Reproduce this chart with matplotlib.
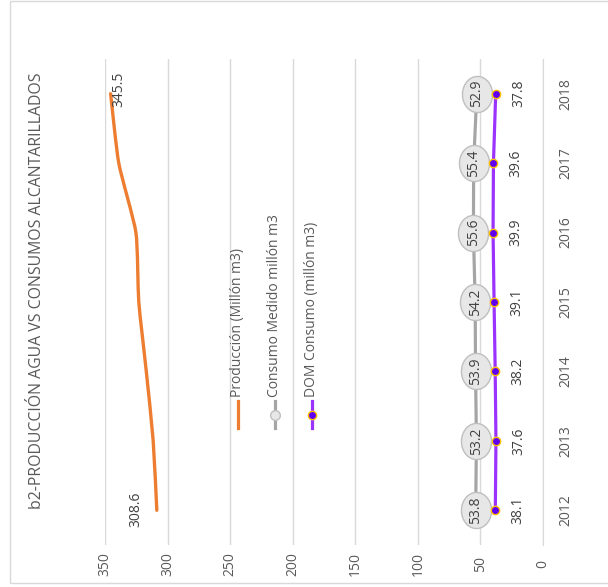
import numpy as np
import matplotlib
matplotlib.use("Agg")
import matplotlib.pyplot as plt
from matplotlib.path import Path
from matplotlib.patches import PathPatch, Rectangle
from matplotlib.lines import Line2D

plt.rcParams['font.family'] = ['Open Sans', 'DejaVu Sans']

# ---- data ----
years = ['2012', '2013', '2014', '2015', '2016', '2017', '2018']
produccion = [308.6, 311.5, 317.0, 323.0, 325.3, 339.0, 345.5]
consumo_medido = [53.8, 53.2, 53.9, 54.2, 55.6, 55.4, 52.9]
dom_consumo = [38.1, 37.6, 38.2, 39.1, 39.9, 39.6, 37.8]
value_ticks = [0, 50, 100, 150, 200, 250, 300, 350]
title = 'b2-PRODUCCIÓN AGUA VS CONSUMOS ALCANTARILLADOS'
legend_labels = ['Producción (Millón m3)', 'Consumo Medido millón m3', 'DOM Consumo (millón m3)']

W, H = 608, 587
fig = plt.figure(figsize=(W / 100, H / 100), dpi=100)

def fx(px):
    return px / W

def fy(py):
    return 1 - py / H

# outer chart border
fig.add_artist(Rectangle((fx(10), fy(583)), fx(700), fy(1) - fy(583), transform=fig.transFigure,
                         fill=False, ec='#d9d9d9', lw=1))

ax = fig.add_axes([fx(105), fy(545), fx(543) - fx(105), fy(59) - fy(545)])
ax.set_xlim(350, 0)
ax.set_ylim(-0.5, len(years) - 0.5)
for s in ['top', 'left', 'bottom']:
    ax.spines[s].set_visible(False)
ax.spines['right'].set_color('#d9d9d9')
ax.set_xticks(value_ticks)
ax.set_xticklabels([str(v) for v in value_ticks])
ax.grid(axis='x', color='#d9d9d9', lw=1)
ax.set_axisbelow(True)
ypos = np.arange(len(years))
ax.yaxis.tick_right()
ax.set_yticks(ypos)
ax.set_yticklabels(years)
ax.tick_params(axis='both', length=0, labelsize=10, labelcolor='#595959')
ax.tick_params(axis='x', pad=13.7, labelrotation=90)
ax.tick_params(axis='y', pad=16.5, labelrotation=90)
for lab in ax.get_xticklabels():
    lab.set_va('center')
for lab in ax.get_yticklabels():
    lab.set_ha('center')
    lab.set_va('center')

orange = '#ed7d31'
grey = '#a5a5a5'
purple = '#9b33ff'
mk_face = '#6000f0'
mk_edge = '#ffc000'

# lightly smoothed production line (reduced-tension Catmull-Rom -> Bezier)
pts = np.column_stack([produccion, ypos]).astype(float)
ext = np.vstack([pts[0], pts, pts[-1]])
verts = [tuple(pts[0])]
codes = [Path.MOVETO]
for i in range(len(pts) - 1):
    p0, p1, p2, p3 = ext[i], ext[i + 1], ext[i + 2], ext[i + 3]
    c1 = p1 + (p2 - p0) / 10
    c2 = p2 - (p3 - p1) / 10
    verts += [tuple(c1), tuple(c2), tuple(p2)]
    codes += [Path.CURVE4] * 3
ax.add_patch(PathPatch(Path(verts, codes), fill=False, ec=orange, lw=2.4,
                       capstyle='round', joinstyle='round', zorder=3))

# consumo medido
ax.plot(consumo_medido, ypos, color=grey, lw=2.3, zorder=2)
t = np.linspace(0, 2 * np.pi, 60)
ell = Path(np.column_stack([0.833 * np.cos(t), np.sin(t)]))
ax.plot(consumo_medido, ypos, ls='none', marker=ell, ms=26, mfc='#e7e7e7', mec='#bfbfbf',
        mew=1, zorder=4)
for v, y in zip(consumo_medido, ypos):
    ax.text(v, y, f'{v:.1f}', rotation=90, ha='center', va='center', fontsize=10,
            color='#404040', zorder=5)

# dom consumo
ax.plot(dom_consumo, ypos, color=purple, lw=2.3, zorder=6, marker='o', ms=6,
        mfc=mk_face, mec=mk_edge, mew=1)
for v, y in zip(dom_consumo, ypos):
    ax.annotate(f'{v:.1f}', (v, y), xytext=(16.5, 0), textcoords='offset points',
                rotation=90, ha='center', va='center', fontsize=10, color='#404040')

# production labels
ax.annotate(f'{produccion[0]:.1f}', (produccion[0], ypos[0]), xytext=(-15, 1),
            textcoords='offset points', rotation=90, ha='center', va='center',
            fontsize=10, color='#404040')
ax.annotate(f'{produccion[-1]:.1f}', (produccion[-1], ypos[-1]), xytext=(6, 3),
            textcoords='offset points', rotation=90, ha='center', va='center',
            fontsize=10, color='#404040')

# title
fig.text(fx(37), fy(291), title, rotation=90, ha='center', va='center', fontsize=11.4,
         color='#595959')

# legend (rotated)
leg_x = [237.5, 274.5, 312]
for i, (lx, lab) in enumerate(zip(leg_x, legend_labels)):
    col = [orange, grey, purple][i]
    fig.add_artist(Line2D([fx(lx), fx(lx)], [fy(428), fy(401)], transform=fig.transFigure,
                          color=col, lw=2.3))
    if i == 1:
        fig.add_artist(Line2D([fx(lx)], [fy(414.5)], transform=fig.transFigure, ls='none',
                              marker='o', ms=7, mfc='#e7e7e7', mec='#bfbfbf', mew=1))
    if i == 2:
        fig.add_artist(Line2D([fx(lx)], [fy(414.5)], transform=fig.transFigure, ls='none',
                              marker='o', ms=6, mfc=mk_face, mec=mk_edge, mew=1))
    fig.text(fx(lx), fy(397), lab, rotation=90, ha='center', va='bottom', fontsize=10,
             color='#595959')

fig.savefig('out.png', dpi=100)
